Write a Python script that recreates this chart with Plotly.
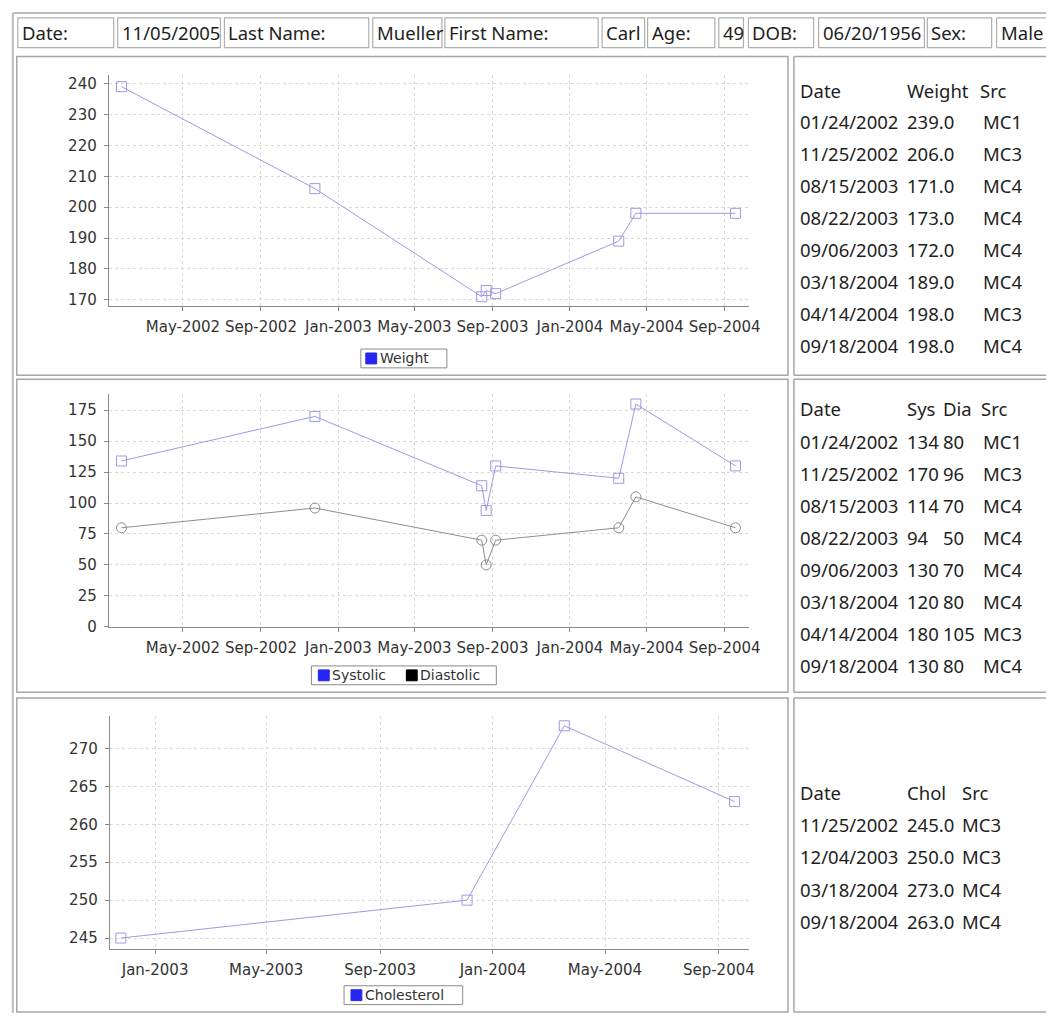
import plotly.graph_objects as go
import pandas as pd

W, H = 1059, 1023

# ---------------- data ----------------
header_labels = ["Date:", "Last Name:", "First Name:", "Age:", "DOB:", "Sex:"]
header_values = ["11/05/2005", "Mueller", "Carl", "49", "06/20/1956", "Male"]

weight_dates = ["2002-01-24", "2002-11-25", "2003-08-15", "2003-08-22",
                "2003-09-06", "2004-03-18", "2004-04-14", "2004-09-18"]
weight_values = [239.0, 206.0, 171.0, 173.0, 172.0, 189.0, 198.0, 198.0]
weight_sources = ["MC1", "MC3", "MC4", "MC4", "MC4", "MC4", "MC3", "MC4"]

bp_dates = ["2002-01-24", "2002-11-25", "2003-08-15", "2003-08-22",
            "2003-09-06", "2004-03-18", "2004-04-14", "2004-09-18"]
systolic = [134, 170, 114, 94, 130, 120, 180, 130]
diastolic = [80, 96, 70, 50, 70, 80, 105, 80]
bp_sources = ["MC1", "MC3", "MC4", "MC4", "MC4", "MC4", "MC3", "MC4"]

chol_dates = ["2002-11-25", "2003-12-04", "2004-03-18", "2004-09-18"]
chol_values = [245.0, 250.0, 273.0, 263.0]
chol_sources = ["MC3", "MC3", "MC4", "MC4"]

legend_names = {"weight": ["Weight"], "bp": ["Systolic", "Diastolic"],
                "chol": ["Cholesterol"]}


# ---------------- helpers ----------------
def px(x):
    return x / W


def py(y):
    return 1 - y / H


def usdate(d):
    return pd.Timestamp(d).strftime("%m/%d/%Y")


shapes = []
annotations = []

TABLE_FONT = dict(family="Noto Sans", size=18.5, color="#1e1e1e")
TICK_FONT = dict(family="DejaVu Sans", size=15, color="#333333")
LEG_FONT = dict(family="DejaVu Sans", size=14, color="#333333")
GRID = "#d9d9d9"
AXIS = "#8a8a8a"
BORDER = "#a6a6a6"


def rect(x0, y0, x1, y1, color=BORDER, width=1.5, fill="rgba(0,0,0,0)", layer="below"):
    shapes.append(dict(type="rect", xref="paper", yref="paper",
                       x0=px(x0), x1=px(x1), y0=py(y1), y1=py(y0),
                       line=dict(color=color, width=width),
                       fillcolor=fill, layer=layer))


def line(x0, y0, x1, y1, color="#bdbdbd", width=2):
    shapes.append(dict(type="line", xref="paper", yref="paper",
                       x0=px(x0), x1=px(x1), y0=py(y0), y1=py(y1),
                       line=dict(color=color, width=width), layer="below"))


def open_box(x0, y0, y1, color=BORDER, width=1.5):
    # box that runs off the right edge of the window
    line(x0, y0, W - 1, y0, color, width)
    line(x0, y1, W - 1, y1, color, width)
    line(x0, y0, x0, y1, color, width)


def text(x, y, s, font=TABLE_FONT):
    annotations.append(dict(xref="paper", yref="paper", x=px(x), y=py(y),
                            text=s, showarrow=False, xanchor="left",
                            yanchor="middle", font=font, borderpad=0))


# ---------------- frame & header ----------------
line(13, 12, W - 1, 12)
line(13, 12, 13, H - 1)

label_boxes = [(18, 115), (227, 373), (450, 605), (655, 723), (757, 823), (938, 1003)]
value_boxes = [(119, 223), (377, 447), (609, 652), (727, 752), (828, 935), (1008, None)]
for (lb, vb, lab, val) in zip(label_boxes, value_boxes, header_labels, header_values):
    rect(lb[0], 17, lb[1], 47, color="#b0b0b0", width=1.2)
    if vb[1] is None:
        open_box(vb[0], 17, 47, color="#b0b0b0", width=1.2)
    else:
        rect(vb[0], 17, vb[1], 47, color="#b0b0b0", width=1.2)
    text(lb[0] + 3, 32, lab)
    text(vb[0] + 3, 32, val)

# panels
panels = [(56, 378), (382, 698), (704, 1021)]
for (t, b) in panels:
    rect(17, t, 797, b)
    open_box(803, t, b)

# ---------------- tables ----------------
COLX = 808
text(COLX, 90, "Date")
text(916, 90, "Weight")
text(990, 90, "Src")
for i, (d, v, s) in enumerate(zip(weight_dates, weight_values, weight_sources)):
    yy = 122 + 32.3 * i
    text(COLX, yy, usdate(d))
    text(916, yy, f"{v:.1f}")
    text(993, yy, s)

text(COLX, 412, "Date")
text(916, 412, "Sys")
text(953, 412, "Dia")
text(991, 412, "Src")
for i, (d, sv, dv, s) in enumerate(zip(bp_dates, systolic, diastolic, bp_sources)):
    yy = 445 + 32.3 * i
    text(COLX, yy, usdate(d))
    text(916, yy, str(sv))
    text(953, yy, str(dv))
    text(993, yy, s)

text(COLX, 799, "Date")
text(916, 799, "Chol")
text(972, 799, "Src")
for i, (d, v, s) in enumerate(zip(chol_dates, chol_values, chol_sources)):
    yy = 832 + 32.4 * i
    text(COLX, yy, usdate(d))
    text(916, yy, f"{v:.1f}")
    text(972, yy, s)


# ---------------- legends (JFreeChart style) ----------------
def legend_box(x0, x1, yc, items):
    rect(x0, yc - 9.5, x1, yc + 9.5, color="#8a8a8a", width=1, fill="white", layer="above")
    for (sx, name, color) in items:
        rect(sx, yc - 5.5, sx + 11, yc + 5.5, color=color, width=1, fill=color, layer="above")
        text(sx + 13, yc, name, font=LEG_FONT)


SWATCH_BLUE = "#2626f0"
legend_box(365, 452, 361, [(370, legend_names["weight"][0], SWATCH_BLUE)])
legend_box(315, 502, 681, [(322, legend_names["bp"][0], SWATCH_BLUE),
                           (411, legend_names["bp"][1], "#000000")])
legend_box(348, 468, 1004, [(355, legend_names["chol"][0], SWATCH_BLUE)])

# ---------------- charts ----------------
fig = go.Figure()

SYS_COLOR = "#9b9be4"
DIA_COLOR = "#8e8e8e"

fig.add_trace(go.Scatter(x=weight_dates, y=weight_values, mode="lines+markers",
                         name=legend_names["weight"][0],
                         line=dict(color=SYS_COLOR, width=1),
                         marker=dict(symbol="square-open", size=10, color=SYS_COLOR,
                                     line=dict(width=1)),
                         xaxis="x", yaxis="y", showlegend=False, hoverinfo="skip"))

fig.add_trace(go.Scatter(x=bp_dates, y=systolic, mode="lines+markers",
                         name=legend_names["bp"][0],
                         line=dict(color=SYS_COLOR, width=1),
                         marker=dict(symbol="square-open", size=10, color=SYS_COLOR,
                                     line=dict(width=1)),
                         xaxis="x2", yaxis="y2", showlegend=False, hoverinfo="skip"))
fig.add_trace(go.Scatter(x=bp_dates, y=diastolic, mode="lines+markers",
                         name=legend_names["bp"][1],
                         line=dict(color=DIA_COLOR, width=1),
                         marker=dict(symbol="circle-open", size=10, color=DIA_COLOR,
                                     line=dict(width=1)),
                         xaxis="x2", yaxis="y2", showlegend=False, hoverinfo="skip"))

fig.add_trace(go.Scatter(x=chol_dates, y=chol_values, mode="lines+markers",
                         name=legend_names["chol"][0],
                         line=dict(color=SYS_COLOR, width=1),
                         marker=dict(symbol="square-open", size=10, color=SYS_COLOR,
                                     line=dict(width=1)),
                         xaxis="x3", yaxis="y3", showlegend=False, hoverinfo="skip"))


def xaxis(domain, rng, anchor):
    return dict(domain=[px(domain[0]), px(domain[1])], range=rng, anchor=anchor,
                type="date", tickformat="%b-%Y", dtick="M4", tick0="2002-01-01",
                showline=True, linecolor=AXIS, linewidth=1, ticks="outside",
                ticklen=4, tickcolor=AXIS, showgrid=True, gridcolor=GRID,
                griddash="dot", gridwidth=1, zeroline=False, tickfont=TICK_FONT,
                ticklabelstandoff=3, fixedrange=True)


def yaxis(top, bottom, rng, dtick, anchor):
    return dict(domain=[py(bottom), py(top)], range=rng, anchor=anchor,
                dtick=dtick, tick0=0, showline=True, linecolor=AXIS, linewidth=1,
                ticks="outside", ticklen=4, tickcolor=AXIS, showgrid=True,
                gridcolor=GRID, griddash="dot", gridwidth=1, zeroline=False,
                tickfont=TICK_FONT, ticklabelstandoff=4, fixedrange=True)


# initial size leaves room for the browser's default 8px body margin so the
# page never overflows the window; the post script then removes the margin
# and grows the figure to the full window.
fig.update_layout(
    width=W - 16, height=H - 16, margin=dict(l=0, r=0, t=0, b=0),
    paper_bgcolor="white", plot_bgcolor="white", hovermode=False,
    showlegend=False,
    xaxis=xaxis((110, 758), ["2002-01-04", "2004-10-10"], "y"),
    yaxis=yaxis(75, 308, [168.0, 242.7], 10, "x"),
    xaxis2=xaxis((110, 758), ["2002-01-04", "2004-10-10"], "y2"),
    yaxis2=yaxis(397, 632, [0, 188], 25, "x2"),
    xaxis3=xaxis((111, 758), ["2002-11-13", "2004-10-04"], "y3"),
    yaxis3=yaxis(722, 957, [243.6, 274.3], 5, "x3"),
    shapes=shapes, annotations=annotations,
)

PAGE_FIX = (
    "document.documentElement.style.margin='0';"
    "document.documentElement.style.overflow='hidden';"
    "document.body.style.margin='0';"
    "document.body.style.overflow='hidden';"
    "var d=document.getElementById('{plot_id}');"
    "d.style.width='%dpx';d.style.height='%dpx';"
    "return Plotly.relayout(d, {width: %d, height: %d});" % (W, H, W, H)
)

fig.write_html("out.html", config={"displayModeBar": False}, post_script=PAGE_FIX)
